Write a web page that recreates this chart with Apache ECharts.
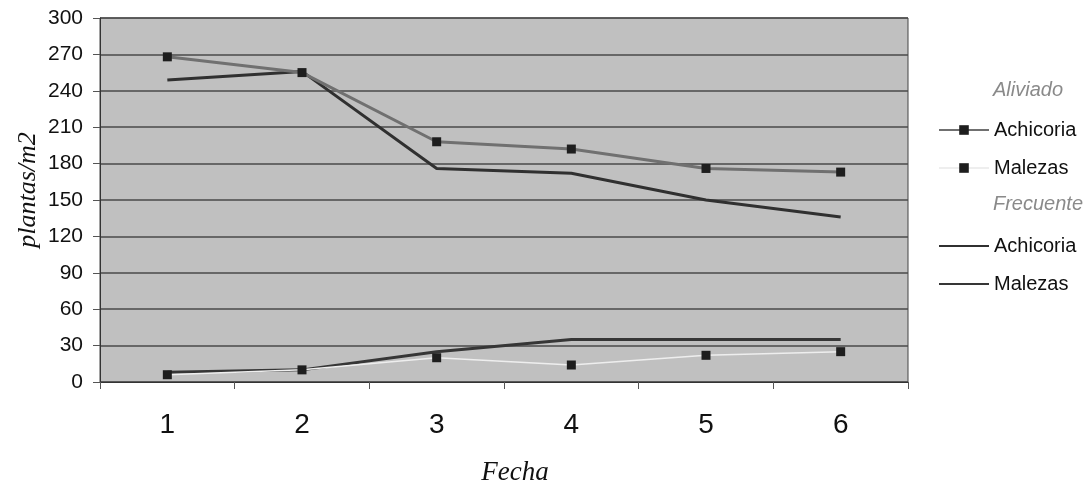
<!DOCTYPE html>
<html>
<head>
<meta charset="utf-8">
<script src="https://cdn.jsdelivr.net/npm/echarts@6/dist/echarts.min.js"></script>
<style>html,body{margin:0;padding:0;background:#fff;}#c{width:1091px;height:491px;}</style>
</head>
<body>
<div id="c"></div>
<script>
const categories = ['1', '2', '3', '4', '5', '6'];
const alivAchicoria = [268, 255, 198, 192, 176, 173];
const alivMalezas = [6, 10, 20, 14, 22, 25];
const frecAchicoria = [249, 256, 176, 172, 150, 136];
const frecMalezas = [8, 10, 25, 35, 35, 35];
const yTicks = { min: 0, max: 300, interval: 30 };

const chart = echarts.init(document.getElementById('c'));
const sans = 'Arial, Liberation Sans';
const serif = 'Liberation Serif, Times New Roman';
const legendText = { fontFamily: sans, fontSize: 20, color: '#111' };
chart.setOption({
  animation: false,
  grid: {
    left: 100, right: 183, top: 18, bottom: 109,
    show: true, backgroundColor: '#c0c0c0', borderColor: '#444', borderWidth: 1
  },
  xAxis: {
    type: 'category', data: categories, boundaryGap: true,
    axisLine: { lineStyle: { color: '#333' } },
    axisTick: { show: true, length: 7, lineStyle: { color: '#555' } },
    axisLabel: { fontFamily: sans, fontSize: 28, color: '#111', margin: 29 },
    name: 'Fecha', nameLocation: 'middle', nameGap: 77,
    nameTextStyle: { fontFamily: serif, fontStyle: 'italic', fontSize: 27, color: '#111', padding: [0, 0, 0, 22] }
  },
  yAxis: {
    type: 'value', min: yTicks.min, max: yTicks.max, interval: yTicks.interval,
    axisLine: { show: true, lineStyle: { color: '#333' } },
    axisTick: { show: true, length: 7, lineStyle: { color: '#555' } },
    axisLabel: { fontFamily: sans, fontSize: 21, color: '#111', margin: 17 },
    splitLine: { lineStyle: { color: '#4a4a4a', width: 1.5 } }
  },
  legend: [
    {
      orient: 'vertical', left: 933, top: 115, itemWidth: 50, itemHeight: 12, itemGap: 18,
      data: ['Aliviado Achicoria', 'Aliviado Malezas'],
      formatter: n => n.split(' ')[1], textStyle: legendText
    },
    {
      orient: 'vertical', left: 933, top: 231, itemWidth: 50, itemHeight: 12, itemGap: 18,
      data: [
        { name: 'Frecuente Achicoria', itemStyle: { opacity: 0 } },
        { name: 'Frecuente Malezas', itemStyle: { opacity: 0 } }
      ],
      formatter: n => n.split(' ')[1], textStyle: legendText
    }
  ],
  graphic: [
    { type: 'text', right: 28, top: 80, style: { text: 'Aliviado', fontFamily: sans, fontStyle: 'italic', fontSize: 20, fill: '#8a8a8a' } },
    { type: 'text', right: 8, top: 194, style: { text: 'Frecuente', fontFamily: sans, fontStyle: 'italic', fontSize: 20, fill: '#8a8a8a' } },
    { type: 'text', x: 28, y: 190, rotation: Math.PI / 2,
      style: { text: 'plantas/m2', fontFamily: serif, fontStyle: 'italic', fontSize: 26, fill: '#111', align: 'center', verticalAlign: 'middle' } }
  ],
  series: [
    {
      name: 'Frecuente Achicoria', type: 'line', data: frecAchicoria, symbol: 'none',
      lineStyle: { color: '#303030', width: 3 }, itemStyle: { color: '#303030' }
    },
    {
      name: 'Frecuente Malezas', type: 'line', data: frecMalezas, symbol: 'none',
      lineStyle: { color: '#363636', width: 3 }, itemStyle: { color: '#363636' }
    },
    {
      name: 'Aliviado Achicoria', type: 'line', data: alivAchicoria, symbol: 'rect', symbolSize: 9,
      lineStyle: { color: '#707070', width: 3 }, itemStyle: { color: '#1e1e1e' }
    },
    {
      name: 'Aliviado Malezas', type: 'line', data: alivMalezas, symbol: 'rect', symbolSize: 9,
      lineStyle: { color: '#eeeeee', width: 1.5 }, itemStyle: { color: '#1e1e1e' }
    }
  ]
});
</script>
</body>
</html>
